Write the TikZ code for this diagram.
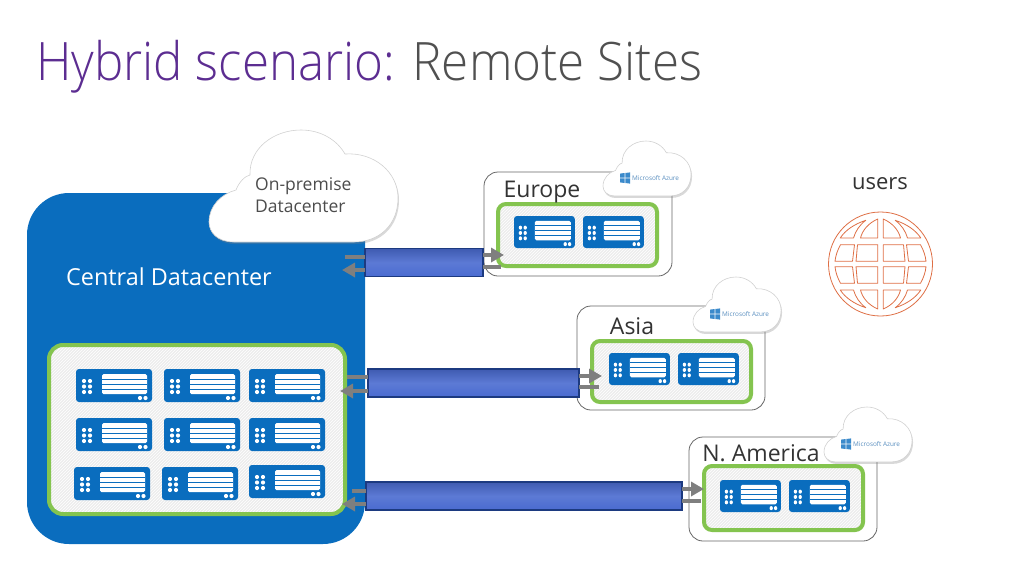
\documentclass[tikz,border=0pt]{standalone}
\usepackage{fontspec}
\setmainfont{Open Sans}
\newfontfamily\titlefont[FakeStretch=.93]{Open Sans Light}
\usetikzlibrary{arrows.meta, patterns, shadows}
\definecolor{srvblue}{HTML}{0A6DBE}
\definecolor{hostgreen}{HTML}{84C44F}
\definecolor{wanblue}{HTML}{4A6BD0}
\definecolor{wanedge}{HTML}{1C3A80}
\definecolor{wangray}{HTML}{7F7F7F}
\definecolor{globeline}{HTML}{DE6F45}
\definecolor{titlepurple}{HTML}{5C2D91}
\definecolor{titlegray}{HTML}{505050}
\definecolor{azuretext}{HTML}{5A8FC0}
\tikzset{
	sitebox/.style={draw=black!60, fill=white, line width=.8pt, rounded corners=14pt, inner sep=0, outer sep=0},
	hostbox/.style={draw=hostgreen, line width=4pt, rounded corners=8pt, inner sep=0, outer sep=0,
		preaction={fill=black!7}, preaction={pattern=north east lines, pattern color=white}},
	wantube/.style={draw=wanedge, line width=1.2pt, top color=wanblue!85!black, bottom color=wanblue, middle color=wanblue!90!white, minimum height=28pt, inner sep=0, outer sep=0},
	wanbar/.style={draw=wangray, line width=3.5pt},
	wanarrow/.style={draw=wangray, line width=3.5pt, -{Triangle[length=13pt,width=14pt]}},
	sitelabel/.style={text=black!80, font=\fontsize{23}{23}\selectfont, inner sep=0},
	azurelabel/.style={text=azuretext, font=\fontsize{6.4}{7}\selectfont, inner sep=0, anchor=west},
	serverunit/.pic={
		\fill[srvblue, rounded corners=3pt] (0,0) rectangle (76,33);
		\fill[white, rounded corners=1.5pt] (26,5) rectangle (71,25);
		\foreach \y in {10,15,20}
			\fill[srvblue] (26,\y-.5) rectangle (71,\y+.5);
		\foreach \x in {8,14}
			\foreach \y in {12,17.5,23}
				\fill[white] (\x,\y) circle (2.1);
		\fill[white] (64,29) circle (2.1) (69.5,29) circle (2.1);
	},
	cloudshape/.pic={
		\path[fill=white, draw=black!18, line width=.6pt, drop shadow={shadow xshift=1pt, shadow yshift=-2pt, opacity=.3}]
			(25,112) .. controls (8,112) and (0,102) .. (0,92)
			.. controls (0,76) and (12,64) .. (27,60)
			.. controls (30,52) and (36,46) .. (41,45)
			.. controls (40,18) and (65,0) .. (92,0)
			.. controls (112,0) and (128,10) .. (136,24)
			.. controls (165,22) and (189,42) .. (189,68)
			.. controls (189,95) and (170,112) .. (145,112) -- cycle;
	},
	azureflag/.pic={
		\fill[srvblue!80!white] (0,.6) -- (4.6,0) -- (4.6,4.6) -- (0,4.6) -- cycle
			(5.4,0) -- (10,-.6) -- (10,4.6) -- (5.4,4.6) -- cycle
			(0,5.4) -- (4.6,5.4) -- (4.6,10) -- (0,9.4) -- cycle
			(5.4,5.4) -- (10,5.4) -- (10,10.6) -- (5.4,10) -- cycle;
	},
	globecells/.pic={
		\draw[globeline, line width=.8pt, line join=round]
			(2.7,-45) .. controls (12,-41) and (18,-34) .. (20,-26) -- (2.7,-26) -- cycle
			(14.7,-43.7) .. controls (26,-40) and (35,-34) .. (40.3,-26) -- (27,-26) .. controls (25,-33) and (21,-39) .. (14.7,-43.7) -- cycle
			(2.7,-19.3) -- (23,-19.3) -- (24.5,-2.7) -- (2.7,-2.7) -- cycle
			(26,-19.3) -- (40,-19.3) .. controls (43,-14) and (45,-8) .. (45.5,-2.7) -- (28,-2.7) -- cycle;
	}
}
\begin{document}
\begin{tikzpicture}[x=1pt,y=-1pt]
	\useasboundingbox (0,0) rectangle (1024,576);

	\node (title) [anchor=base west, inner sep=0, font=\titlefont\fontsize{53}{53}\selectfont] at (36,80)
		{\textcolor{titlepurple}{Hybrid scenario:} \textcolor{titlegray}{Remote Sites}};

	\node (central) [fill=srvblue, rounded corners=42pt, minimum width=338pt, minimum height=351pt, inner sep=0] at (196,368.5) {};
	\node (centralLabel) [anchor=base west, inner sep=0, text=white, font=\fontsize{23.4}{23.4}\selectfont] at (66,285) {Central Datacenter};
	\node (centralHosts) [hostbox, rounded corners=14pt, minimum width=296pt, minimum height=169pt] at (197,429.5) {};
	\foreach \x in {76,164,249}
		\foreach \y in {369,418}
			\pic at (\x,\y) {serverunit};
	\foreach \x/\y in {74/467,162/467,249/465}
		\pic at (\x,\y) {serverunit};

	\node (siteEurope) [sitebox, minimum width=188pt, minimum height=104pt] at (578,224) {};
	\node (siteAsia) [sitebox, minimum width=188pt, minimum height=104pt] at (671,358) {};
	\node (siteAmerica) [sitebox, minimum width=188pt, minimum height=104pt] at (783,489) {};

	\node (hostsEurope) [hostbox, minimum width=159pt, minimum height=62pt] at (577.5,235) {};
	\node (hostsAsia) [hostbox, minimum width=159pt, minimum height=61pt] at (671.5,371.5) {};
	\node (hostsAmerica) [hostbox, minimum width=159pt, minimum height=64pt] at (783.5,498) {};

	\foreach \x/\y in {514/216,583/216,609/353,678/353,720/480,789/480}
		\pic[xscale=.8,yscale=.97] at (\x,\y) {serverunit};

	\node (labelEurope) [sitelabel] at (542,192) {Europe};
	\node (labelAsia) [sitelabel] at (632,326) {Asia};
	\node (labelAmerica) [sitelabel] at (761,453) {N. America};

	\node (wanEurope) [wantube, minimum width=118pt] at (424,262.5) {};
	\node (wanAsia) [wantube, minimum width=211pt] at (473.5,383) {};
	\node (wanAmerica) [wantube, minimum width=316pt] at (524,496) {};

	\coordinate (euroBar) at (345,257);
	\coordinate (euroBack) at (342,270);
	\coordinate (euroIn) at (504,255);
	\coordinate (euroOut) at (501,267);
	\coordinate (asiaBar) at (347,377);
	\coordinate (asiaBack) at (340,391);
	\coordinate (asiaIn) at (602,376);
	\coordinate (asiaOut) at (599,387);
	\coordinate (amerBar) at (352,491);
	\coordinate (amerBack) at (342,504);
	\coordinate (amerIn) at (704,489);
	\coordinate (amerOut) at (701,501);

	\draw[wanbar] (wanEurope.west |- euroBar) -- (euroBar);
	\draw[wanarrow] (wanEurope.west |- euroBack) -- (euroBack);
	\draw[wanarrow] (wanEurope.east |- euroIn) -- (euroIn);
	\draw[wanbar] (wanEurope.east |- euroOut) -- (euroOut);
	\draw[wanbar] (wanAsia.west |- asiaBar) -- (asiaBar);
	\draw[wanarrow] (wanAsia.west |- asiaBack) -- (asiaBack);
	\draw[wanarrow] (wanAsia.east |- asiaIn) -- (asiaIn);
	\draw[wanbar] (wanAsia.east |- asiaOut) -- (asiaOut);
	\draw[wanbar] (wanAmerica.west |- amerBar) -- (amerBar);
	\draw[wanarrow] (wanAmerica.west |- amerBack) -- (amerBack);
	\draw[wanarrow] (wanAmerica.east |- amerIn) -- (amerIn);
	\draw[wanbar] (wanAmerica.east |- amerOut) -- (amerOut);

	\pic at (209,130) {cloudshape};
	\node (cloudLabel) [anchor=west, align=left, inner sep=0, text=black!70, font=\fontsize{17.5}{22}\selectfont] at (255,195) {On-premise\\Datacenter};

	\foreach \x/\y/\n in {603/141/Europe,693/277/Asia,824/407/America}{
		\pic[xscale=.466,yscale=.49] at (\x,\y) {cloudshape};
		\pic at (\x+17,\y+32) {azureflag};
		\node (azure\n) [azurelabel] at (\x+29,\y+37) {Microsoft Azure};
	}

	\node (users) [text=black!80, font=\fontsize{22}{22}\selectfont, inner sep=0] at (880,184) {users};
	\node (globe) [circle, draw=globeline, line width=.8pt, minimum size=104pt, inner sep=0] at (880.5,264) {};
	\foreach \sx in {1,-1}
		\foreach \sy in {1,-1}
			\pic[xscale=\sx,yscale=\sy] at (globe.center) {globecells};
\end{tikzpicture}
\end{document}
